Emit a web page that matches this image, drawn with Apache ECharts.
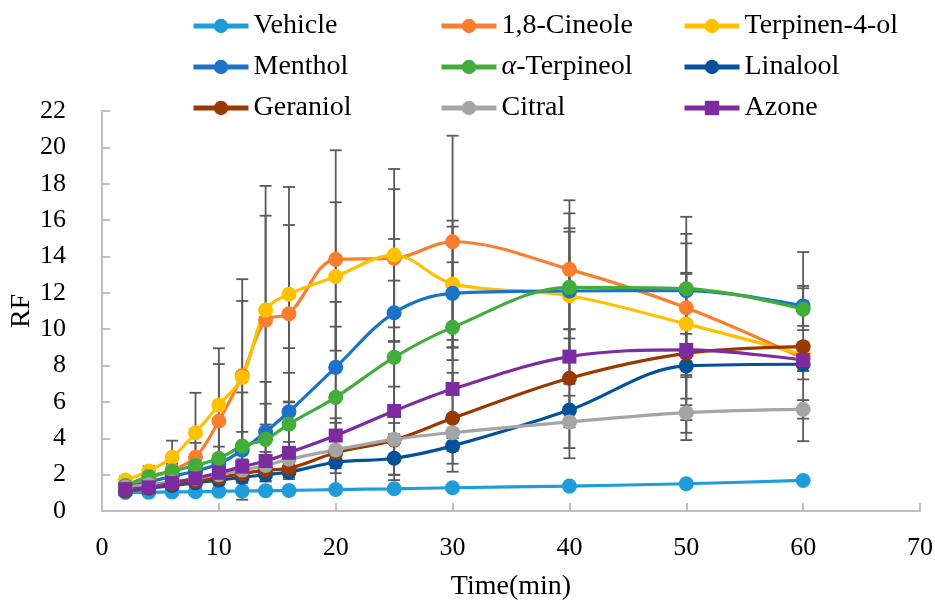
<!DOCTYPE html>
<html>
<head>
<meta charset="utf-8">
<script src="https://cdn.jsdelivr.net/npm/echarts@6/dist/echarts.min.js"></script>
<style>
html,body{margin:0;padding:0;background:#fff;}
#c{width:935px;height:600px;}
</style>
</head>
<body>
<div id="c"></div>
<script>
const times = [2, 4, 6, 8, 10, 12, 14, 16, 20, 25, 30, 40, 50, 60];

const seriesNames = ['Vehicle', '1,8-Cineole', 'Terpinen-4-ol', 'Menthol', 'α-Terpineol', 'Linalool', 'Geraniol', 'Citral', 'Azone'];

const vehicle    = [1.02, 1.03, 1.05, 1.06, 1.08, 1.10, 1.12, 1.13, 1.18, 1.22, 1.28, 1.37, 1.50, 1.68];
const cineole    = [1.40, 1.80, 2.25, 2.95, 4.95, 7.45, 10.50, 10.85, 13.84, 13.90, 14.81, 13.29, 11.18, 8.40];
const terpinen4ol= [1.70, 2.20, 2.95, 4.30, 5.83, 7.35, 11.05, 11.92, 12.90, 14.08, 12.49, 11.84, 10.29, 8.60];
const menthol    = [1.30, 1.60, 1.90, 2.20, 2.60, 3.35, 4.36, 5.46, 7.90, 10.90, 11.97, 12.10, 12.12, 11.28];
const aTerpineol = [1.40, 1.90, 2.20, 2.50, 2.90, 3.57, 3.94, 4.78, 6.25, 8.45, 10.10, 12.30, 12.23, 11.10];
const linalool   = [1.10, 1.25, 1.40, 1.55, 1.70, 1.85, 2.00, 2.15, 2.68, 2.90, 3.58, 5.55, 7.98, 8.07];
const geraniol   = [1.15, 1.30, 1.50, 1.65, 1.85, 2.05, 2.25, 2.35, 3.20, 3.90, 5.10, 7.30, 8.67, 9.04];
const citral     = [1.30, 1.45, 1.60, 1.80, 2.00, 2.25, 2.50, 2.85, 3.36, 3.94, 4.31, 4.90, 5.41, 5.59];
const azone      = [1.20, 1.30, 1.55, 1.80, 2.10, 2.44, 2.75, 3.20, 4.15, 5.50, 6.71, 8.49, 8.86, 8.30];

const errVehicle    = [0.08, 0.08, 0.08, 0.08, 0.08, 0.08, 0.08, 0.08, 0.08, 0.08, 0.08, 0.08, 0.08, 0.08];
const errCineole    = [0.20, 0.30, 0.50, 0.80, 3.13, 5.30, 5.74, 4.88, 6.00, 3.80, 5.83, 3.80, 5.00, 0.70];
const errTerpinen4ol= [0.22, 0.27, 0.92, 2.20, 3.12, 4.20, 6.83, 5.90, 4.08, 4.73, 3.48, 3.52, 2.81, 0.60];
const errMenthol    = [0.20, 0.25, 0.30, 0.40, 0.50, 1.00, 2.74, 3.50, 3.60, 4.06, 3.67, 3.45, 3.12, 1.10];
const errATerpineol = [0.20, 0.30, 0.40, 0.50, 0.64, 2.95, 1.96, 2.82, 3.89, 4.22, 3.58, 4.07, 2.49, 1.15];
const errLinalool   = [0.10, 0.10, 0.15, 0.20, 0.25, 0.30, 0.35, 0.40, 0.60, 0.90, 1.42, 2.65, 4.08, 0.83];
const errGeraniol   = [0.10, 0.15, 0.20, 0.25, 0.30, 0.35, 0.40, 0.50, 1.90, 1.92, 2.50, 2.70, 4.37, 5.20];
const errCitral     = [0.10, 0.10, 0.15, 0.20, 0.25, 0.30, 0.35, 0.40, 0.60, 0.90, 1.00, 1.44, 0.41, 0.51];
const errAzone      = [0.10, 0.15, 0.20, 0.25, 0.30, 0.40, 0.50, 0.60, 0.70, 3.80, 2.70, 1.50, 1.50, 0.60];

const xTicks = [0, 10, 20, 30, 40, 50, 60, 70];
const yTicks = [0, 2, 4, 6, 8, 10, 12, 14, 16, 18, 20, 22];

const values = [vehicle, cineole, terpinen4ol, menthol, aTerpineol, linalool, geraniol, citral, azone];
const errors = [errVehicle, errCineole, errTerpinen4ol, errMenthol, errATerpineol, errLinalool, errGeraniol, errCitral, errAzone];
const colors = ['#1e9dda', '#fb7d2e', '#ffc000', '#1a73c8', '#43ad3c', '#02519a', '#993800', '#a5a5a5', '#7c2ba0'];
const symbols = ['circle', 'circle', 'circle', 'circle', 'circle', 'circle', 'circle', 'circle', 'rect'];

const FONT = '"Liberation Serif", serif';

const series = [];
seriesNames.forEach((name, k) => {
  series.push({
    name: name + ' err',
    type: 'custom',
    z: 1,
    silent: true,
    encode: { x: 0, y: [1, 2] },
    data: times.map((t, i) => [t, values[k][i] - errors[k][i], values[k][i] + errors[k][i]]),
    renderItem: function (params, api) {
      const x = api.value(0);
      const p1 = api.coord([x, api.value(2)]);
      const p2 = api.coord([x, api.value(1)]);
      const w = 6;
      const st = { stroke: '#5a5a5a', lineWidth: 1.8 };
      return {
        type: 'group',
        children: [
          { type: 'line', shape: { x1: p1[0], y1: p1[1], x2: p2[0], y2: p2[1] }, style: st },
          { type: 'line', shape: { x1: p1[0] - w, y1: p1[1], x2: p1[0] + w, y2: p1[1] }, style: st },
          { type: 'line', shape: { x1: p2[0] - w, y1: p2[1], x2: p2[0] + w, y2: p2[1] }, style: st }
        ]
      };
    }
  });
});
seriesNames.forEach((name, k) => {
  series.push({
    name: name,
    type: 'line',
    z: 2,
    smooth: 0.35,
    data: times.map((t, i) => [t, values[k][i]]),
    symbol: symbols[k],
    symbolSize: symbols[k] === 'rect' ? 14 : 15,
    color: colors[k],
    lineStyle: { width: 3.2, color: colors[k] },
    itemStyle: { color: colors[k] }
  });
});

function legendCol(left, names) {
  return {
    orient: 'vertical',
    left: left,
    top: 6,
    itemWidth: 55,
    itemHeight: 18,
    itemGap: 11,
    lineStyle: { width: 5 },
    data: names,
    formatter: function (n) { return n === 'α-Terpineol' ? '{i|α}-Terpineol' : n; },
    textStyle: {
      fontFamily: FONT, fontSize: 28, color: '#000', lineHeight: 30,
      rich: { i: { fontFamily: FONT, fontSize: 28, fontStyle: 'italic', color: '#000' } }
    }
  };
}

const option = {
  backgroundColor: '#fff',
  animation: false,
  legend: [
    legendCol(186, [seriesNames[0], seriesNames[3], seriesNames[6]]),
    legendCol(434, [seriesNames[1], seriesNames[4], seriesNames[7]]),
    legendCol(677, [seriesNames[2], seriesNames[5], seriesNames[8]])
  ],
  grid: { left: 102, right: 15, top: 111, bottom: 89, containLabel: false, outerBoundsMode: 'none' },
  xAxis: {
    type: 'value',
    min: xTicks[0], max: xTicks[xTicks.length - 1], interval: 10,
    name: 'Time(min)', nameLocation: 'middle', nameGap: 62,
    nameTextStyle: { fontFamily: FONT, fontSize: 28, color: '#000' },
    axisLine: { lineStyle: { color: '#bfbfbf', width: 2 } },
    axisTick: { inside: true, length: 8, lineStyle: { color: '#bfbfbf', width: 2 } },
    axisLabel: { fontFamily: FONT, fontSize: 26, color: '#000', margin: 24 },
    splitLine: { show: false }
  },
  yAxis: {
    type: 'value',
    min: yTicks[0], max: yTicks[yTicks.length - 1], interval: 2,
    name: 'RF', nameLocation: 'middle', nameGap: 66, nameMoveOverlap: false,
    nameTextStyle: { fontFamily: FONT, fontSize: 28, color: '#000' },
    axisLine: { show: true, lineStyle: { color: '#bfbfbf', width: 2 } },
    axisTick: { show: true, inside: true, length: 8, lineStyle: { color: '#bfbfbf', width: 2 } },
    axisLabel: { fontFamily: FONT, fontSize: 26, color: '#000', margin: 36 },
    splitLine: { show: false }
  },
  series: series
};

const chart = echarts.init(document.getElementById('c'), null, { renderer: 'canvas' });
chart.setOption(option);
</script>
</body>
</html>
